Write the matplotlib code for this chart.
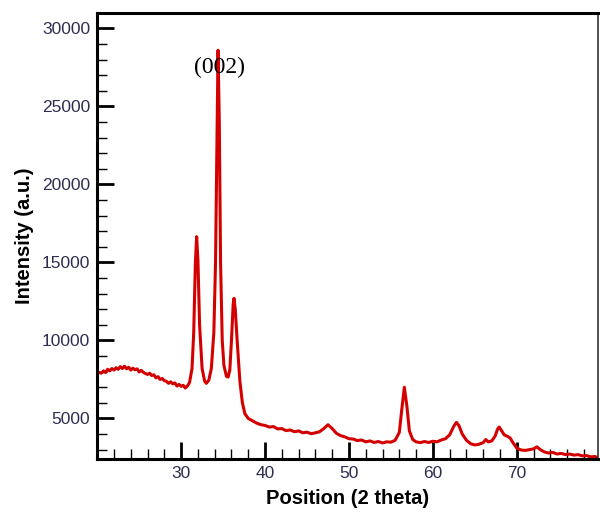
from matplotlib import pyplot as plt
from matplotlib.ticker import MultipleLocator

plt.rcParams["font.family"] = ["Liberation Sans", "DejaVu Sans"]

# 2-theta positions and intensities
two_theta = [20.0, 20.25, 20.5, 20.75, 21.0, 21.25, 21.5, 21.75, 22.0, 22.25,
             22.5, 22.75, 23.0, 23.25, 23.5, 23.75, 24.0, 24.25, 24.5, 24.75,
             25.0, 25.25, 25.5, 25.75, 26.0, 26.25, 26.5, 26.75, 27.0, 27.25,
             27.5, 27.75, 28.0, 28.25, 28.5, 28.75, 29.0, 29.25, 29.5, 29.75,
             30.0, 30.25, 30.5, 30.75, 31.0, 31.3, 31.5, 31.7, 31.85, 32.0,
             32.2, 32.5, 32.8, 33.0, 33.3, 33.6, 33.9, 34.1, 34.25, 34.4,
             34.55, 34.7, 34.9, 35.1, 35.4, 35.6, 35.8, 36.0, 36.2, 36.3,
             36.45, 36.7, 37.0, 37.3, 37.6, 38.0, 38.5, 39.0, 39.5, 40.0,
             40.5, 41.0, 41.5, 42.0, 42.5, 43.0, 43.5, 44.0, 44.5, 45.0,
             45.5, 46.0, 46.5, 47.0, 47.5, 48.0, 48.5, 49.0, 49.5, 50.0,
             50.5, 51.0, 51.5, 52.0, 52.5, 53.0, 53.5, 54.0, 54.5, 55.0,
             55.5, 56.0, 56.3, 56.6, 56.9, 57.2, 57.6, 58.0, 58.5, 59.0,
             59.5, 60.0, 60.5, 61.0, 61.5, 62.0, 62.5, 62.8, 63.1, 63.5,
             64.0, 64.5, 65.0, 65.5, 66.0, 66.3, 66.6, 67.0, 67.4, 67.7,
             67.9, 68.2, 68.5, 68.9, 69.2, 69.6, 70.0, 70.5, 71.0, 71.5,
             72.0, 72.4, 72.8, 73.3, 73.8, 74.3, 74.8, 75.3, 75.8, 76.3,
             76.8, 77.3, 77.8, 78.3, 78.8, 79.3, 79.7]
intensity = [7850, 7950, 7900, 8050, 7950, 8150, 8050, 8200, 8100, 8250,
             8150, 8320, 8200, 8350, 8180, 8280, 8100, 8220, 8120, 8180,
             7980, 8080, 7950, 7880, 7820, 7900, 7750, 7800, 7600, 7680,
             7500, 7560, 7420, 7380, 7250, 7350, 7220, 7280, 7080, 7180,
             7060, 7120, 6950, 7080, 7300, 8200, 10500, 15000, 16650, 15200,
             11000, 8200, 7400, 7250, 7450, 8200, 10500, 15000, 22000, 28600,
             24000, 15000, 10000, 8400, 7700, 7650, 8100, 10000, 12300, 12700,
             12000, 9800, 7400, 6000, 5300, 5000, 4850, 4700, 4600, 4550,
             4450, 4480, 4330, 4350, 4220, 4260, 4150, 4200, 4080, 4120,
             4020, 4080, 4150, 4350, 4600, 4350, 4050, 3900, 3820, 3700,
             3680, 3580, 3620, 3500, 3560, 3460, 3520, 3430, 3500, 3480,
             3600, 4100, 5600, 7000, 5800, 4200, 3650, 3500, 3450, 3520,
             3460, 3540, 3500, 3620, 3700, 3950, 4500, 4750, 4550, 4000,
             3600, 3380, 3300, 3350, 3450, 3650, 3500, 3550, 3850, 4300,
             4450, 4200, 3950, 3850, 3750, 3400, 3100, 2980, 2950, 3000,
             3050, 3180, 3000, 2850, 2780, 2820, 2720, 2760, 2680, 2720,
             2650, 2680, 2600, 2620, 2540, 2560, 2480]

label_color = "#2e2e50"

fig = plt.figure(figsize=(6, 5.12), dpi=100)
ax = fig.add_axes([0.162, 0.1035, 0.835, 0.8715])

ax.plot(two_theta, intensity, color="#d40000", lw=2.2)

ax.set_xlim(20, 79.7)
ax.set_ylim(2400, 31000)
ax.xaxis.set_minor_locator(MultipleLocator(2))
ax.yaxis.set_minor_locator(MultipleLocator(1000))
ax.set_xticks([30, 40, 50, 60, 70])
ax.set_yticks([5000, 10000, 15000, 20000, 25000, 30000])

ax.tick_params(which="major", direction="in", length=12, width=2,
               labelsize=12.5, labelcolor=label_color, pad=5,
               top=False, right=False)
ax.tick_params(which="minor", direction="in", length=7, width=1,
               top=False, right=False)

for side in ["left", "bottom", "top"]:
    ax.spines[side].set_linewidth(2.2)
    ax.spines[side].set_color("black")
ax.spines["right"].set_linewidth(1.2)
ax.spines["right"].set_color("#333333")

ax.set_xlabel("Position (2 theta)", fontweight="bold", fontsize=14.5, labelpad=6)
ax.set_ylabel("Intensity (a.u.)", fontweight="bold", fontsize=14.5, labelpad=6)

ax.text(34.6, 27500, "(002)", family="Liberation Serif", fontsize=17,
        ha="center", va="center")

fig.savefig("out.png", dpi=100)
